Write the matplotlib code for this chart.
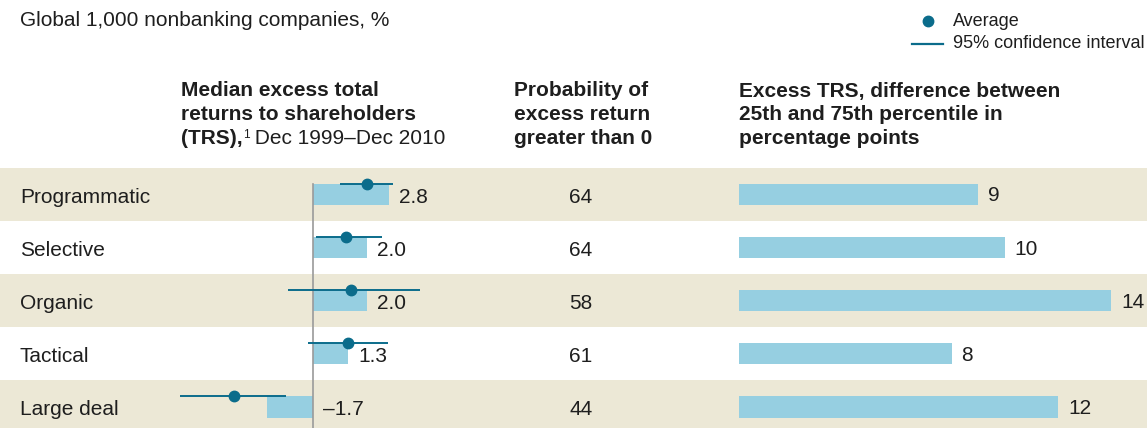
import numpy as np
import matplotlib.pyplot as plt

plt.rcParams['font.family'] = ['Liberation Sans', 'DejaVu Sans']

# 数据
categories = ['Programmatic', 'Selective', 'Organic', 'Tactical', 'Large deal']
median_trs = [2.8, 2.0, 2.0, 1.3, -1.7]
avg_trs = [2.0, 1.2, 1.4, 1.3, -2.95]
ci_low = [1.0, 0.1, -0.95, -0.2, -4.95]
ci_high = [2.95, 2.55, 3.95, 2.75, -1.0]
prob_positive = [64, 64, 58, 61, 44]
trs_spread = [9, 10, 14, 8, 12]
median_labels = ['2.8', '2.0', '2.0', '1.3', '\u20131.7']

# 颜色
band_color = '#ECE8D6'
bar_color = '#96CFE1'
dot_color = '#0B6C8B'
text_color = '#1E1E1E'

W, H = 1147, 428
fig = plt.figure(figsize=(W / 100, H / 100), dpi=100)

row_top = 168
row_h = 53.1
n = len(categories)
fs = 15


def axes_px(x0, x1):
    # 像素位置 -> figure 坐标
    bottom = H - (row_top + n * row_h)
    return fig.add_axes([x0 / W, bottom / H, (x1 - x0) / W, n * row_h / H])


y = np.arange(n)

# 背景条纹
ax_bg = axes_px(0, W)
ax_bg.set_xlim(0, W)
ax_bg.set_ylim(n - 0.5, -0.5)
for i in range(n):
    if i % 2 == 0:
        ax_bg.axhspan(i - 0.5, i + 0.5, color=band_color, lw=0)
for i, c in enumerate(categories):
    ax_bg.annotate(c, (20, i), xytext=(0, -2), textcoords='offset points',
                   fontsize=fs, color=text_color, va='center', ha='left')
for i, p in enumerate(prob_positive):
    ax_bg.annotate(str(p), (581, i), xytext=(0, -2), textcoords='offset points',
                   fontsize=fs, color=text_color, va='center', ha='center')
ax_bg.axis('off')

# 第一列: median excess TRS
px_per_unit = 27.0
zero_px = 313.3
ax1 = axes_px(170, 450)
ax1.set_xlim((170 - zero_px) / px_per_unit, (450 - zero_px) / px_per_unit)
ax1.set_ylim(n - 0.5, -0.5)
bar_h = 0.40
ax1.barh(y, median_trs, height=bar_h, color=bar_color, lw=0, zorder=2)
ax1.plot([0, 0], [-bar_h / 2, n - 0.5], color='#9A9A9A', lw=1.2, zorder=3)
ax1.hlines(y - bar_h / 2, ci_low, ci_high, color=dot_color, lw=1.4, zorder=4)
ax1.plot(avg_trs, y - bar_h / 2, 'o', color=dot_color, ms=7.5, zorder=5)
for i, (v, lab) in enumerate(zip(median_trs, median_labels)):
    ax1.annotate(lab, (max(v, 0), i), xytext=(7, -2), textcoords='offset points',
                 fontsize=fs, color=text_color, va='center', ha='left')
ax1.axis('off')

# 第三列: 25th-75th percentile spread
ax3 = axes_px(739, W)
ax3.set_xlim(0, (W - 739) / 26.6)
ax3.set_ylim(n - 0.5, -0.5)
ax3.barh(y, trs_spread, height=bar_h, color=bar_color, lw=0)
for i, v in enumerate(trs_spread):
    ax3.annotate(str(v), (v, i), xytext=(7, -1), textcoords='offset points',
                 fontsize=fs, color=text_color, va='center', ha='left')
ax3.axis('off')

# 标题
fig.text(20 / W, 1 - 21 / H, 'Global 1,000 nonbanking companies, %', fontsize=15,
         color=text_color, va='center', ha='left')


def header(x, lines):
    for k, line in enumerate(lines):
        fig.text(x / W, 1 - (91 + 24 * k) / H, line, fontsize=fs, fontweight='bold',
                 color=text_color, va='center', ha='left')


header(181, ['Median excess total', 'returns to shareholders'])
t = fig.text(181 / W, 1 - 139 / H, '(TRS),', fontsize=fs, fontweight='bold',
             color=text_color, va='center', ha='left')
t2 = plt.annotate('1', xy=(1, 1), xycoords=t, xytext=(0, 0), textcoords='offset points',
                  fontsize=8.5, color=text_color, va='top', ha='left')
plt.annotate(' Dec 1999\u2013Dec 2010', xy=(1, 0), xycoords=t, xytext=(4.5, 0),
             textcoords='offset points', fontsize=fs, color=text_color, va='bottom', ha='left')
header(514, ['Probability of', 'excess return', 'greater than 0'])
header(739, ['Excess TRS, difference between', '25th and 75th percentile in', 'percentage points'])

# 图例
leg = fig.add_axes([900 / W, 1 - 55 / H, 50 / W, 45 / H])
leg.set_xlim(0, 50)
leg.set_ylim(55, 10)
leg.plot([28], [21], 'o', color=dot_color, ms=7.5)
leg.plot([12, 43], [44, 44], color=dot_color, lw=1.6)
leg.axis('off')
fig.text(953 / W, 1 - 21 / H, 'Average', fontsize=13, color=text_color, va='center', ha='left')
fig.text(953 / W, 1 - 44 / H, '95% confidence interval', fontsize=13, color=text_color,
         va='center', ha='left')

fig.savefig('out.png', dpi=100)
